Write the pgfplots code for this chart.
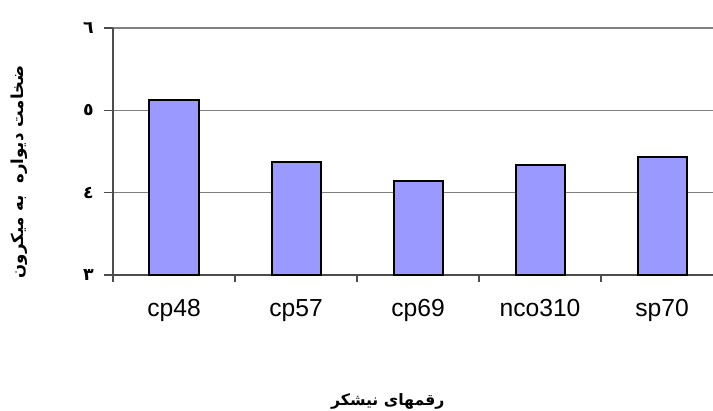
\documentclass[border=0pt]{standalone}
\usepackage{pgfplots}
\pgfplotsset{compat=1.18}
\usepackage{fontspec}
\setmainfont{Liberation Sans}
\TeXXeTstate=1
\newfontfamily\arabicfont[Script=Arabic]{DejaVu Sans}
\definecolor{barfill}{HTML}{9999FF}
\definecolor{gridgray}{HTML}{808080}
\begin{document}
\begin{tikzpicture}
\useasboundingbox (-84.75pt,-101.25pt) rectangle (450pt,206.25pt);
\begin{axis}[
  scale only axis,
  width=450pt, height=185.25pt,
  xmin=-0.5, xmax=4.418,
  ymin=3, ymax=6,
  ytick={3,4,5,6},
  yticklabels={٣,٤,٥,٦},
  xtick={0,1,2,3,4},
  xticklabels={cp48,cp57,cp69,nco310,sp70},
  minor xtick={-0.5,0.5,1.5,2.5,3.5},
  major x tick style={draw=none},
  minor x tick style={draw=gridgray!60!black, line width=0.8pt},
  minor tick length=5pt,
  major tick length=7pt,
  tick align=outside,
  axis x line*=bottom,
  axis y line*=left,
  axis line style={draw=gridgray!60!black, line width=0.8pt},
  ytick style={draw=gridgray!60!black, line width=0.8pt},
  ymajorgrids,
  grid style={draw=gridgray, line width=0.8pt},
  xticklabel style={font=\fontsize{18.5}{20}\selectfont, yshift=-8pt},
  yticklabel style={font=\arabicfont\bfseries\fontsize{13}{15}\selectfont, xshift=-4pt},
  xlabel={\arabicfont\bfseries\beginR رقمهای نیشکر\endR},
  xlabel style={font=\fontsize{11.8}{14}\selectfont, at={(axis description cs:0.458,-0.51)}, anchor=center},
  ylabel={\arabicfont\bfseries\beginR ضخامت دیواره\ \ به میکرون\endR},
  ylabel style={font=\fontsize{12.4}{14}\selectfont, at={(axis description cs:-0.157,0.417)}, anchor=center, rotate=0},
  ybar, bar width=36.75pt,
  clip=true,
]
\addplot[fill=barfill, draw=black, line width=1.5pt] coordinates {
  (0,5.125) (1,4.377) (2,4.14) (3,4.33) (4,4.43)
};
\end{axis}
\end{tikzpicture}
\end{document}
